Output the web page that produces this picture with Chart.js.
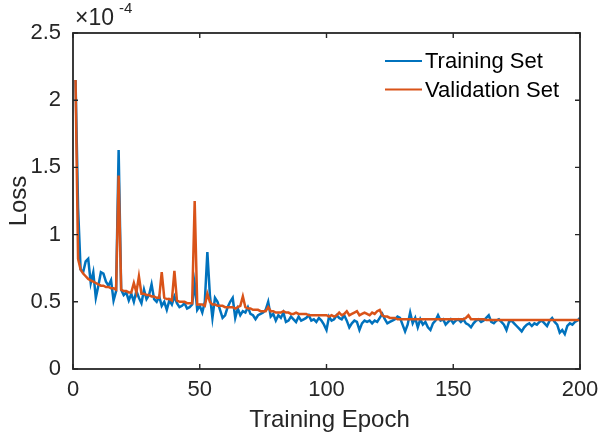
<!DOCTYPE html>
<html><head><meta charset="utf-8">
<script src="https://cdn.jsdelivr.net/npm/chart.js@4/dist/chart.umd.min.js"></script>
<style>html,body{margin:0;padding:0;background:#fff}#wrap{width:600px;height:442px}</style>
</head><body><div id="wrap"><canvas id="c" width="600" height="442"></canvas></div>
<script>
// Epoch numbers (x values)
const epochs = Array.from({length: 200}, (_, i) => i + 1);
// Loss values in units of 1e-4
const trainingLoss = [
  2.15,1.20,0.74,0.72,0.80,0.82,0.64,0.72,0.53,0.62,
  0.72,0.71,0.65,0.62,0.66,0.51,0.58,1.63,0.59,0.55,
  0.57,0.51,0.56,0.50,0.58,0.53,0.49,0.59,0.52,0.55,
  0.63,0.52,0.50,0.54,0.47,0.50,0.44,0.51,0.48,0.54,
  0.49,0.46,0.47,0.49,0.45,0.46,0.48,0.64,0.44,0.47,
  0.42,0.50,0.87,0.55,0.38,0.53,0.50,0.44,0.38,0.40,
  0.46,0.50,0.53,0.38,0.45,0.40,0.43,0.42,0.46,0.41,
  0.40,0.37,0.40,0.41,0.42,0.44,0.50,0.39,0.41,0.36,
  0.40,0.38,0.42,0.35,0.36,0.39,0.37,0.35,0.39,0.36,
  0.37,0.38,0.40,0.36,0.37,0.35,0.38,0.36,0.33,0.29,
  0.39,0.36,0.37,0.40,0.38,0.37,0.40,0.36,0.31,0.34,
  0.36,0.35,0.29,0.34,0.36,0.35,0.36,0.34,0.36,0.35,
  0.38,0.41,0.37,0.34,0.35,0.36,0.37,0.39,0.38,0.33,
  0.28,0.33,0.42,0.34,0.38,0.31,0.37,0.33,0.35,0.31,
  0.29,0.34,0.36,0.40,0.36,0.37,0.33,0.35,0.37,0.34,
  0.36,0.37,0.35,0.37,0.34,0.33,0.31,0.34,0.36,0.37,
  0.35,0.36,0.38,0.40,0.35,0.34,0.36,0.37,0.35,0.33,
  0.29,0.35,0.36,0.34,0.32,0.30,0.28,0.31,0.33,0.34,
  0.32,0.34,0.33,0.35,0.36,0.34,0.32,0.36,0.38,0.35,
  0.33,0.27,0.29,0.26,0.32,0.34,0.33,0.35,0.36,0.38
];
const validationLoss = [
  2.15,0.82,0.74,0.71,0.69,0.67,0.66,0.65,0.64,0.63,
  0.62,0.62,0.61,0.61,0.60,0.60,0.59,1.44,0.59,0.58,
  0.58,0.57,0.57,0.64,0.57,0.69,0.56,0.56,0.55,0.55,
  0.54,0.54,0.53,0.53,0.72,0.53,0.52,0.52,0.51,0.73,
  0.51,0.50,0.50,0.50,0.49,0.49,0.49,1.25,0.48,0.48,
  0.48,0.47,0.56,0.50,0.48,0.48,0.47,0.47,0.47,0.46,
  0.46,0.46,0.46,0.45,0.46,0.47,0.54,0.46,0.45,0.45,
  0.44,0.44,0.44,0.43,0.43,0.43,0.46,0.43,0.43,0.42,
  0.42,0.42,0.43,0.42,0.42,0.41,0.41,0.42,0.41,0.41,
  0.41,0.41,0.40,0.40,0.40,0.40,0.40,0.40,0.40,0.40,
  0.39,0.40,0.39,0.40,0.42,0.40,0.41,0.43,0.40,0.41,
  0.42,0.43,0.40,0.41,0.42,0.41,0.40,0.42,0.41,0.43,
  0.44,0.40,0.39,0.39,0.38,0.38,0.38,0.37,0.37,0.37,
  0.37,0.37,0.37,0.37,0.37,0.37,0.37,0.37,0.37,0.37,
  0.37,0.37,0.37,0.37,0.37,0.37,0.37,0.37,0.37,0.37,
  0.37,0.37,0.37,0.37,0.38,0.40,0.37,0.37,0.37,0.37,
  0.37,0.37,0.365,0.365,0.365,0.365,0.365,0.365,0.365,0.365,
  0.365,0.365,0.365,0.365,0.365,0.365,0.365,0.365,0.365,0.365,
  0.365,0.365,0.365,0.365,0.365,0.365,0.365,0.365,0.365,0.365,
  0.365,0.365,0.365,0.365,0.365,0.365,0.365,0.365,0.365,0.365
];
const xTicks = [0, 50, 100, 150, 200];
const yTicks = [0, 0.5, 1, 1.5, 2, 2.5];
const seriesNames = ['Training Set', 'Validation Set'];
const seriesColors = ['#0072BD', '#D95319'];

const FONT = '"Liberation Sans", Arial, Helvetica, sans-serif';
const AXIS = '#262626';

const matlabAxes = {
  id: 'matlabAxes',
  afterDatasetsDraw(chart) {
    const ctx = chart.ctx, a = chart.chartArea;
    const xs = chart.scales.x, ys = chart.scales.y;
    ctx.save();
    ctx.strokeStyle = AXIS;
    ctx.lineWidth = 1.8;
    ctx.strokeRect(a.left, a.top, a.right - a.left, a.bottom - a.top);
    ctx.lineWidth = 1.4;
    const L = 5;
    ctx.beginPath();
    xTicks.forEach(v => {
      const px = xs.getPixelForValue(v);
      ctx.moveTo(px, a.bottom); ctx.lineTo(px, a.bottom - L);
      ctx.moveTo(px, a.top); ctx.lineTo(px, a.top + L);
    });
    yTicks.forEach(v => {
      const py = ys.getPixelForValue(v);
      ctx.moveTo(a.left, py); ctx.lineTo(a.left + L, py);
      ctx.moveTo(a.right, py); ctx.lineTo(a.right - L, py);
    });
    ctx.stroke();
    ctx.restore();
  },
  afterDraw(chart) {
    const ctx = chart.ctx, a = chart.chartArea;
    ctx.save();
    ctx.fillStyle = AXIS;
    // exponent label
    ctx.textBaseline = 'alphabetic';
    ctx.textAlign = 'left';
    ctx.font = '23px ' + FONT;
    ctx.fillText('\u00D710', 75, 25);
    ctx.font = '15px ' + FONT;
    ctx.fillText('-4', 119, 13);
    // axis titles
    ctx.font = '24px ' + FONT;
    ctx.textAlign = 'center';
    ctx.textBaseline = 'middle';
    ctx.fillText('Training Epoch', (a.left + a.right) / 2 + 3, 420);
    ctx.save();
    ctx.translate(19, (a.top + a.bottom) / 2);
    ctx.rotate(-Math.PI / 2);
    ctx.fillText('Loss', 0, 0);
    ctx.restore();
    // legend
    ctx.font = '22px ' + FONT;
    ctx.textAlign = 'left';
    const rows = [61, 89.5];
    chart.data.datasets.forEach((ds, i) => {
      const y = rows[i];
      ctx.strokeStyle = ds.borderColor;
      ctx.lineWidth = 2.2;
      ctx.beginPath(); ctx.moveTo(385, y); ctx.lineTo(422, y); ctx.stroke();
      ctx.fillStyle = '#000';
      ctx.fillText(ds.label, 425, y + 1);
    });
    ctx.restore();
  }
};

new Chart(document.getElementById('c'), {
  type: 'line',
  data: {
    datasets: [
      { label: seriesNames[0], data: epochs.map((e, i) => ({x: e, y: trainingLoss[i]})),
        borderColor: seriesColors[0], borderWidth: 2.5, pointRadius: 0, tension: 0, order: 1 },
      { label: seriesNames[1], data: epochs.map((e, i) => ({x: e, y: validationLoss[i]})),
        borderColor: seriesColors[1], borderWidth: 2.5, pointRadius: 0, tension: 0, order: 0 }
    ]
  },
  options: {
    responsive: false,
    animation: false,
    devicePixelRatio: 1,
    layout: { padding: { top: 33, right: 20, left: 0, bottom: 0 } },
    plugins: { legend: { display: false }, tooltip: { enabled: false } },
    scales: {
      x: {
        type: 'linear', min: 0, max: 200,
        afterBuildTicks: s => { s.ticks = xTicks.map(v => ({value: v})); },
        afterFit: s => { s.height = 73; s.paddingLeft = 0; s.paddingRight = 0; },
        grid: { display: false, drawTicks: false },
        border: { display: false },
        ticks: { padding: 8, color: AXIS, font: { family: FONT, size: 22 }, maxRotation: 0,
                 callback: v => String(v) }
      },
      y: {
        type: 'linear', min: 0, max: 2.5,
        afterBuildTicks: s => { s.ticks = yTicks.map(v => ({value: v})); },
        afterFit: s => { s.width = 73; s.paddingTop = 0; s.paddingBottom = 0; },
        grid: { display: false, drawTicks: false },
        border: { display: false },
        ticks: { padding: 12, color: AXIS, font: { family: FONT, size: 22 },
                 callback: v => String(v) }
      }
    }
  },
  plugins: [matlabAxes]
});
</script></body></html>
